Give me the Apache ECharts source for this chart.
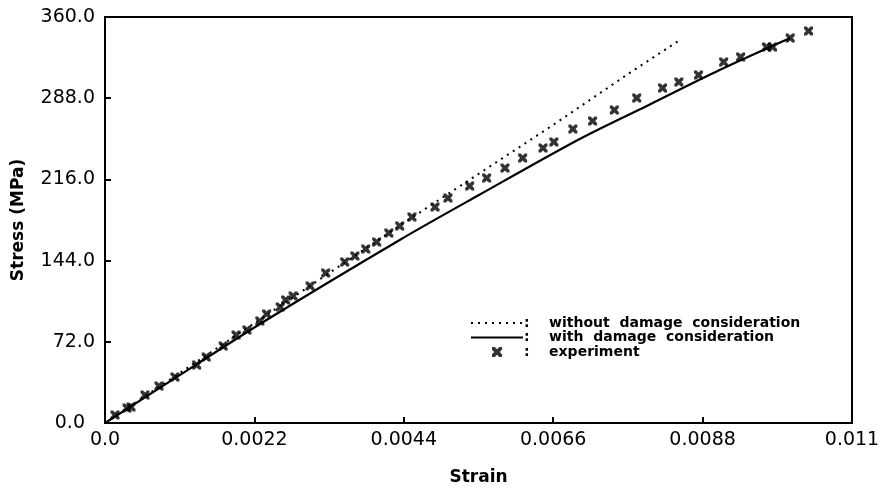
<!DOCTYPE html>
<html>
<head>
<meta charset="utf-8">
<script src="https://cdn.jsdelivr.net/npm/echarts@6/dist/echarts.min.js"></script>
<style>html,body{margin:0;padding:0;background:#fff;}#c{width:888px;height:492px;}</style>
</head>
<body>
<div id="c"></div>
<script>
// Tick values / labels
const xTicks = [0, 0.0022, 0.0044, 0.0066, 0.0088, 0.011];
const xTickLabels = ['0.0', '0.0022', '0.0044', '0.0066', '0.0088', '0.011'];
const yTicks = [0, 72, 144, 216, 288, 360];
const yTickLabels = ['0.0', '72.0', '144.0', '216.0', '288.0', '360.0'];

// Series names
const seriesNames = ['without  damage  consideration', 'with  damage  consideration', 'experiment'];

// without damage (dotted)
const strainNoDamage = [0, 0.0022, 0.00434, 0.00658, 0.00774, 0.00845];
const stressNoDamage = [0, 88.5, 175.0, 263.5, 311.0, 339.0];

// with damage (solid)
const strainDamage = [0, 0.0011, 0.00233, 0.00434, 0.0055, 0.00699, 0.008, 0.00905, 0.01009];
const stressDamage = [0, 42.4, 89.6, 162.3, 201.9, 251.8, 281.8, 313.0, 341.4];

// experiment
const strainExp = [0.000147,0.000324,0.000383,0.000589,0.000795,0.00103,0.00135,0.00149,0.00174,0.00193,0.00209,0.00228,0.00238,0.00258,0.00266,0.00277,0.00302,0.00325,0.00353,0.00368,0.00384,0.00400,0.00418,0.00434,0.00452,0.00486,0.00505,0.00537,0.00562,0.00589,0.00615,0.00645,0.00661,0.00689,0.00718,0.00750,0.00783,0.00821,0.00845,0.00874,0.00911,0.00936,0.00974,0.00983,0.01009,0.01036];
const stressExp = [7.1,13.3,14.2,24.8,32.8,40.8,51.4,58.5,68.3,78.0,82.5,90.4,96.6,102.9,109.1,112.6,121.5,133.0,142.8,148.1,154.3,160.5,168.5,174.7,182.7,191.5,199.5,210.1,217.2,226.1,235.0,243.8,249.2,260.7,267.8,277.5,288.2,297.0,302.4,308.6,320.1,324.5,333.4,333.4,341.4,347.6];

const zip = (a, b) => a.map((v, i) => [v, b[i]]);
const FONT = 'DejaVu Sans';
const crossPath = 'path://M0,0 L2.8,0 5,2.2 7.2,0 10,0 10,2.8 7.8,5 10,7.2 10,10 7.2,10 5,7.8 2.8,10 0,10 0,7.2 2.2,5 0,2.8Z';

function labelFor(ticks, labels, v) {
  for (let i = 0; i < ticks.length; i++) if (Math.abs(ticks[i] - v) < 1e-9) return labels[i];
  return '';
}

const chart = echarts.init(document.getElementById('c'), null, {renderer: 'canvas'});
chart.setOption({
  animation: false,
  backgroundColor: '#fff',
  grid: {left: 105, right: 36, top: 17, bottom: 69, show: true, borderColor: '#000', borderWidth: 2, backgroundColor: 'transparent'},
  xAxis: {
    type: 'value', min: 0, max: 0.011, interval: 0.0022,
    name: 'Strain', nameLocation: 'middle', nameGap: 46,
    nameTextStyle: {fontFamily: FONT, fontWeight: 'bold', fontSize: 17, color: '#000'},
    axisLine: {show: true, lineStyle: {color: '#000', width: 2}},
    axisTick: {show: true, inside: true, length: 6, lineStyle: {color: '#000', width: 2}},
    splitLine: {show: false},
    axisLabel: {fontFamily: FONT, fontSize: 19, color: '#000', margin: 8,
      formatter: v => labelFor(xTicks, xTickLabels, v)}
  },
  yAxis: {
    type: 'value', min: 0, max: 360, interval: 72,
    name: 'Stress (MPa)', nameLocation: 'middle', nameGap: 78, nameRotate: 90,
    nameTextStyle: {fontFamily: FONT, fontWeight: 'bold', fontSize: 17, color: '#000'},
    axisLine: {show: true, lineStyle: {color: '#000', width: 2}},
    axisTick: {show: true, inside: true, length: 6, lineStyle: {color: '#000', width: 2}},
    splitLine: {show: false},
    axisLabel: {fontFamily: FONT, fontSize: 19, color: '#000', margin: 10,
      formatter: v => v === 0 ? '{z|' + labelFor(yTicks, yTickLabels, v) + '}' : labelFor(yTicks, yTickLabels, v),
      rich: {z: {fontFamily: FONT, fontSize: 19, color: '#000', padding: [0, 10, 0, 0]}}}
  },
  legend: {
    orient: 'vertical', left: 470, top: 316, padding: 0, itemWidth: 52, itemHeight: 10, itemGap: 0.5,
    selectedMode: false,
    formatter: n => ':    ' + n,
    textStyle: {fontFamily: FONT, fontWeight: 'bold', fontSize: 14, color: '#000', padding: [0, 0, 0, -4]},
    data: [
      {name: seriesNames[0], itemStyle: {opacity: 0}},
      {name: seriesNames[1], itemStyle: {opacity: 0}},
      {name: seriesNames[2]}
    ]
  },
  series: [
    {name: seriesNames[0], type: 'line', data: zip(strainNoDamage, stressNoDamage), showSymbol: false, symbol: 'none',
     lineStyle: {color: '#000', width: 2, type: [2, 5]}, itemStyle: {color: '#000'}},
    {name: seriesNames[1], type: 'line', data: zip(strainDamage, stressDamage), showSymbol: false, symbol: 'none', smooth: 0.3,
     lineStyle: {color: '#000', width: 2.2}, itemStyle: {color: '#000'}},
    {name: seriesNames[2], type: 'scatter', data: zip(strainExp, stressExp), symbol: crossPath, symbolSize: 9,
     itemStyle: {color: '#000'}}
  ]
});
</script>
</body>
</html>
